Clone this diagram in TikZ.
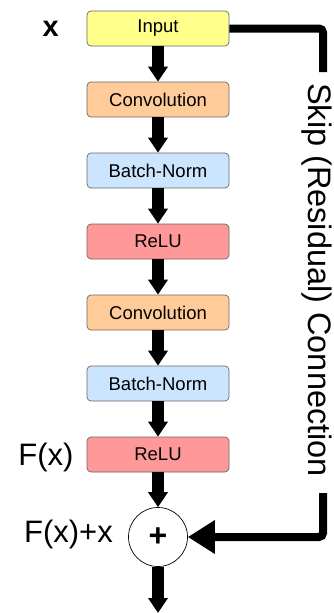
\documentclass[tikz,border=0pt]{standalone}
\usepackage{fontspec}
\setmainfont{Liberation Sans}
\usetikzlibrary{arrows.meta}
\usetikzlibrary{positioning}

\definecolor{inputcol}{HTML}{FFFF8C}
\definecolor{convcol}{HTML}{FFCC99}
\definecolor{bncol}{HTML}{CCE5FF}
\definecolor{relucol}{HTML}{FF9999}

\tikzset{
  layer/.style={draw=gray!80!black, line width=0.7pt, rounded corners=4pt,
    minimum width=142pt, minimum height=35pt, inner sep=0pt, font=\fontsize{18.5}{20}\selectfont},
  flow/.style={line width=12pt, -{Triangle[width=19pt,length=15pt]}},
  skipline/.style={line width=8pt, rounded corners=4pt},
  lbl/.style={anchor=base, inner sep=0pt, font=\fontsize{31}{34}\selectfont}
}

\begin{document}
\begin{tikzpicture}[x=1pt,y=-1pt]
	\useasboundingbox (0,0) rectangle (333,613);
	\node[layer, fill=inputcol] (input) at (158,28.5){Input};%in
	\node[layer, fill=convcol] (conv1) at (158,99.5){Convolution};
	\node[layer, fill=bncol] (bn1) at (158,170.5){Batch-Norm};
	\node[layer, fill=relucol] (relu1) at (158,241.5){ReLU};
	\node[layer, fill=convcol] (conv2) at (158,312.5){Convolution};
	\node[layer, fill=bncol] (bn2) at (158,383.5){Batch-Norm};
	\node[layer, fill=relucol] (relu2) at (158,454.5){ReLU};
	\node[draw, circle, line width=0.7pt, minimum size=59pt, inner sep=0pt,
	  font=\fontsize{32}{34}\selectfont\bfseries] (plus) at (158,537){+};%sum
	\coordinate (out) at (158,613);
	\coordinate (skiptop) at (323,72);
	\coordinate (skipbot) at (323,493);
	\foreach \a/\b in {input/conv1,conv1/bn1,bn1/relu1,relu1/conv2,conv2/bn2,bn2/relu2,relu2/plus}
	  \draw[flow] (\a) -- (\b);
	\draw[flow] (plus) -- (out);
	\draw[skipline] (input.east) -| (skiptop);
	\draw[skipline, -{Triangle[width=32pt,length=27pt]}] (skipbot) |- (plus.east);
	\node[lbl, rotate=-90, font=\fontsize{32.5}{34}\selectfont] (skiptxt) at (308,280){Skip (Residual) Connection};
	\node[lbl, font=\fontsize{29}{32}\selectfont\bfseries] (xlbl) at (50.7,36.7){x};
	\node[lbl] (flbl) at (46,465){F(x)};
	\node[lbl] (sumlbl) at (68.5,542){F(x)+x};
\end{tikzpicture}
\end{document}
